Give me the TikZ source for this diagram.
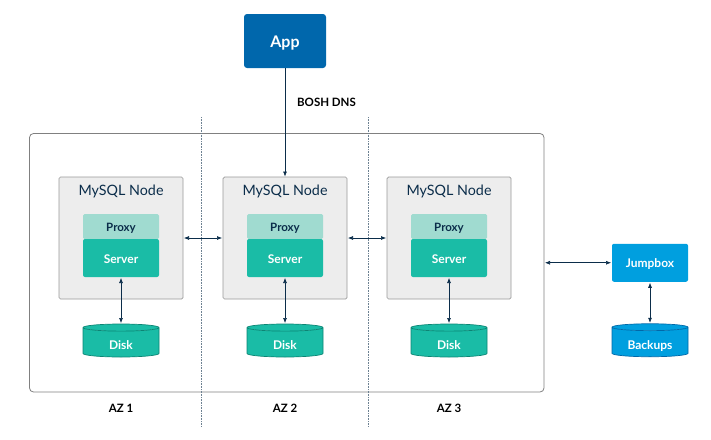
\documentclass[tikz,border=0pt]{standalone}
\usepackage{fontspec}
\setmainfont{Lato}
\usetikzlibrary{shapes, arrows.meta, positioning}

\definecolor{navy}{HTML}{0B2D4A}
\definecolor{teal}{HTML}{1ABCA6}
\definecolor{tealdark}{HTML}{0B8574}
\definecolor{paleteal}{HTML}{A0DBD0}
\definecolor{appblue}{HTML}{0067AC}
\definecolor{skyblue}{HTML}{009FDF}
\definecolor{skydark}{HTML}{0068A8}

\begin{document}
\begin{tikzpicture}[
  x=1pt, y=1pt,
  font=\small,
  >={Latex[length=5pt, width=4pt]},
  every node/.style={outer sep=0pt},
  link/.style={<->, semithick, draw=navy, shorten >=1pt, shorten <=1pt},
  request/.style={->, semithick, draw=navy, shorten >=0.5pt},
  divider/.style={draw=navy!60, densely dotted, line width=0.6pt},
  cluster/.style={draw=black!50, line width=0.8pt, rounded corners=4pt, minimum width=514.5pt, minimum height=258.5pt},
  mysql/.style={draw=black!40, line width=0.7pt, fill=black!7, rounded corners=1.5pt, minimum width=124pt, minimum height=122pt,
    label={[anchor=north, yshift=-4.5pt, text=navy, font=\fontsize{14.3}{16}\selectfont]north:MySQL Node}},
  proxy/.style={fill=paleteal, rounded corners=1.5pt, minimum width=76pt, minimum height=25pt,
    text=navy, text height=12pt, text depth=2pt, font=\fontsize{11.5}{14}\selectfont\bfseries},
  server/.style={fill=teal, rounded corners=2pt, minimum width=76pt, minimum height=38pt,
    text=white, text height=12pt, text depth=2pt, font=\fontsize{12}{14}\selectfont\bfseries},
  disk/.style={cylinder, shape border rotate=90, aspect=0.3, cylinder uses custom fill,
    cylinder body fill=teal, cylinder end fill=teal, draw=tealdark, line width=0.7pt, minimum width=76pt, minimum height=33pt,
    text=white, text height=14pt, text depth=0pt, font=\fontsize{12}{14}\selectfont\bfseries, inner sep=0pt},
  backup/.style={disk, cylinder body fill=skyblue, cylinder end fill=skyblue, draw=skydark},
  app/.style={fill=appblue, rounded corners=3pt, minimum width=82pt, minimum height=54pt,
    text=white, text height=15pt, text depth=3pt, font=\fontsize{16}{18}\selectfont\bfseries},
  jump/.style={fill=skyblue, rounded corners=2pt, minimum width=76pt, minimum height=38pt,
    text=white, text height=12pt, text depth=2pt, font=\fontsize{12}{14}\selectfont\bfseries},
  lbl/.style={font=\fontsize{11.5}{14}\selectfont\bfseries, text=black}
]
  \useasboundingbox (0,0) rectangle (711,-439);

  % --- Cluster and zones ---
  \node[cluster] (box) at (286.75,-262.75) {};
  \coordinate (zone1top) at (201.5,-117);
  \coordinate (zone1bot) at (201.5,-427);
  \coordinate (zone2top) at (368,-117);
  \coordinate (zone2bot) at (368,-427);
  \draw[divider] (zone1top) -- (zone1bot);
  \draw[divider] (zone2top) -- (zone2bot);

  % --- App ---
  \node[app] (app) at (285,-41) {App};
  \node[lbl, below=27pt of app.south, xshift=41.5pt] (dns) {BOSH DNS};

  % --- MySQL nodes ---
  \node[mysql, below=109pt of app] (node2) {};
  \node[mysql, left=40pt of node2] (node1) {};
  \node[mysql, right=40pt of node2] (node3) {};

  % --- Proxy, server, disk ---
  \node[proxy, below=37pt of node1.north] (proxy1) {Proxy};
  \node[server, below=0pt of proxy1] (server1) {Server};
  \node[disk, below=47pt of server1] (disk1) {Disk};
  \node[proxy, below=37pt of node2.north] (proxy2) {Proxy};
  \node[server, below=0pt of proxy2] (server2) {Server};
  \node[disk, below=47pt of server2] (disk2) {Disk};
  \node[proxy, below=37pt of node3.north] (proxy3) {Proxy};
  \node[server, below=0pt of proxy3] (server3) {Server};
  \node[disk, below=47pt of server3] (disk3) {Disk};

  % --- Zone labels ---
  \node[lbl, below=44pt of disk1] (az1) {AZ 1};
  \node[lbl, below=44pt of disk2] (az2) {AZ 2};
  \node[lbl, below=44pt of disk3] (az3) {AZ 3};

  % --- Jumpbox ---
  \node[jump, right=68pt of box] (jumpbox) {Jumpbox};
  \node[backup, below=42pt of jumpbox] (backups) {\makebox[23pt]{Backups}};

  % --- Links ---
  \draw[request] (app) -- (node2);
  \draw[link] (node1) -- (node2);
  \draw[link] (node2) -- (node3);
  \draw[link] (server1) -- (disk1);
  \draw[link] (server2) -- (disk2);
  \draw[link] (server3) -- (disk3);
  \draw[link] (box) -- (jumpbox);
  \draw[link] (jumpbox) -- (backups);
\end{tikzpicture}
\end{document}
